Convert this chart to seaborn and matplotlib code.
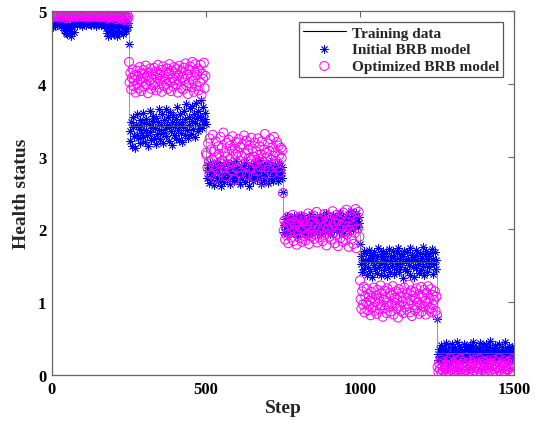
import numpy as np
import pandas as pd
import matplotlib
matplotlib.use("Agg")
import matplotlib.pyplot as plt
import seaborn as sns

# ---------------- data ----------------
# step range covered by each health-state segment, and the switching steps
segment_ranges = [(0, 248), (252, 498), (502, 748), (752, 998), (1002, 1248), (1252, 1500)]
transition_steps = [250, 500, 750, 1000, 1250]

initial_seg1 = [4.80, 4.78, 4.84, 4.82, 4.79, 4.85, 4.83, 4.81, 4.86, 4.84,
                4.82, 4.85, 4.80, 4.83, 4.86, 4.77, 4.74, 4.81, 4.70, 4.78,
                4.68, 4.83, 4.75, 4.72, 4.80, 4.66, 4.79, 4.84, 4.71, 4.82,
                4.85, 4.83, 4.86, 4.81, 4.84, 4.87, 4.82, 4.85, 4.83, 4.80,
                4.86, 4.84, 4.82, 4.85, 4.81, 4.87, 4.83, 4.84, 4.86, 4.82,
                4.84, 4.81, 4.85, 4.83, 4.87, 4.82, 4.84, 4.80, 4.86, 4.83,
                4.85, 4.82, 4.84, 4.86, 4.81, 4.83, 4.85, 4.79, 4.84, 4.82,
                4.76, 4.70, 4.83, 4.65, 4.78, 4.72, 4.81, 4.67, 4.85, 4.74,
                4.80, 4.69, 4.84, 4.73, 4.66, 4.82, 4.77, 4.70, 4.85, 4.79,
                4.71, 4.83, 4.68, 4.80, 4.75, 4.86, 4.72, 4.81, 4.78, 4.84]
initial_seg2 = [3.35, 3.22, 3.48, 3.15, 3.40, 3.55, 3.28, 3.12, 3.44, 3.30,
                3.58, 3.25, 3.38, 3.50, 3.18, 3.42, 3.33, 3.60, 3.27, 3.46,
                3.20, 3.37, 3.52, 3.29, 3.14, 3.45, 3.62, 3.34, 3.23, 3.49,
                3.41, 3.56, 3.26, 3.39, 3.17, 3.53, 3.31, 3.47, 3.65, 3.36,
                3.24, 3.43, 3.58, 3.32, 3.19, 3.50, 3.38, 3.66, 3.28, 3.44,
                3.54, 3.21, 3.40, 3.61, 3.35, 3.16, 3.47, 3.57, 3.30, 3.42,
                3.26, 3.52, 3.68, 3.37, 3.23, 3.45, 3.59, 3.33, 3.48, 3.20,
                3.40, 3.63, 3.29, 3.51, 3.72, 3.36, 3.25, 3.55, 3.44, 3.67,
                3.31, 3.49, 3.70, 3.38, 3.58, 3.27, 3.46, 3.74, 3.53, 3.35,
                3.62, 3.42, 3.56, 3.78, 3.39, 3.50, 3.68, 3.45, 3.60, 3.52]
initial_seg3 = [2.82, 2.70, 2.88, 2.64, 2.76, 2.91, 2.68, 2.80, 2.73, 2.86,
                2.61, 2.79, 2.84, 2.71, 2.93, 2.66, 2.77, 2.89, 2.74, 2.60,
                2.83, 2.72, 2.87, 2.65, 2.78, 2.92, 2.69, 2.81, 2.75, 2.85,
                2.63, 2.80, 2.90, 2.70, 2.77, 2.86, 2.67, 2.83, 2.73, 2.94,
                2.68, 2.79, 2.84, 2.62, 2.76, 2.89, 2.71, 2.82, 2.74, 2.87,
                2.65, 2.81, 2.92, 2.70, 2.78, 2.85, 2.59, 2.80, 2.88, 2.72,
                2.83, 2.66, 2.77, 2.91, 2.74, 2.84, 2.69, 2.79, 2.95, 2.71,
                2.86, 2.63, 2.80, 2.88, 2.75, 2.68, 2.82, 2.90, 2.73, 2.78,
                2.64, 2.85, 2.79, 2.93, 2.70, 2.81, 2.87, 2.67, 2.76, 2.84,
                2.89, 2.72, 2.80, 2.66, 2.83, 2.91, 2.75, 2.78, 2.86, 2.70]
initial_seg4 = [2.06, 1.97, 2.14, 2.01, 2.19, 1.93, 2.09, 2.03, 2.16, 1.99,
                2.11, 2.04, 1.95, 2.18, 2.07, 2.00, 2.13, 1.91, 2.08, 2.15,
                2.02, 1.96, 2.12, 2.20, 2.05, 1.98, 2.10, 2.17, 1.94, 2.06,
                2.14, 2.00, 2.08, 1.92, 2.16, 2.03, 2.21, 1.97, 2.11, 2.05,
                1.99, 2.13, 2.07, 2.18, 1.95, 2.09, 2.02, 2.15, 2.06, 1.93,
                2.10, 2.19, 2.01, 2.12, 1.96, 2.08, 2.22, 2.04, 1.98, 2.14,
                2.07, 1.94, 2.16, 2.03, 2.11, 2.20, 1.99, 2.09, 2.13, 2.01,
                2.17, 2.05, 1.97, 2.12, 2.23, 2.06, 2.10, 1.95, 2.15, 2.08,
                2.02, 2.18, 2.11, 2.04, 2.21, 1.98, 2.14, 2.09, 2.25, 2.07,
                2.13, 2.00, 2.19, 2.10, 2.06, 2.22, 2.12, 2.03, 2.17, 2.09]
initial_seg5 = [1.52, 1.64, 1.41, 1.58, 1.70, 1.46, 1.55, 1.67, 1.37, 1.60,
                1.49, 1.72, 1.43, 1.56, 1.65, 1.34, 1.61, 1.51, 1.69, 1.45,
                1.57, 1.40, 1.63, 1.74, 1.48, 1.54, 1.66, 1.38, 1.59, 1.71,
                1.44, 1.62, 1.53, 1.68, 1.36, 1.58, 1.47, 1.73, 1.55, 1.42,
                1.64, 1.50, 1.70, 1.39, 1.61, 1.56, 1.45, 1.67, 1.52, 1.75,
                1.41, 1.59, 1.48, 1.66, 1.54, 1.33, 1.63, 1.71, 1.46, 1.57,
                1.69, 1.43, 1.60, 1.51, 1.74, 1.38, 1.56, 1.65, 1.49, 1.62,
                1.35, 1.58, 1.72, 1.47, 1.64, 1.53, 1.40, 1.68, 1.57, 1.44,
                1.61, 1.76, 1.50, 1.37, 1.66, 1.55, 1.70, 1.42, 1.59, 1.63,
                1.48, 1.67, 1.54, 1.73, 1.39, 1.60, 1.52, 1.69, 1.45, 1.58]
initial_seg6 = [0.29, 0.21, 0.36, 0.25, 0.41, 0.19, 0.33, 0.27, 0.38, 0.23,
                0.31, 0.44, 0.22, 0.35, 0.26, 0.39, 0.18, 0.30, 0.42, 0.24,
                0.34, 0.28, 0.37, 0.20, 0.32, 0.45, 0.25, 0.29, 0.40, 0.22,
                0.36, 0.27, 0.33, 0.19, 0.43, 0.30, 0.24, 0.38, 0.26, 0.35,
                0.21, 0.32, 0.41, 0.28, 0.37, 0.23, 0.46, 0.31, 0.25, 0.34,
                0.39, 0.20, 0.30, 0.36, 0.27, 0.44, 0.22, 0.33, 0.29, 0.40,
                0.24, 0.35, 0.28, 0.42, 0.19, 0.31, 0.38, 0.26, 0.47, 0.32,
                0.23, 0.37, 0.29, 0.34, 0.21, 0.41, 0.27, 0.36, 0.30, 0.25,
                0.43, 0.28, 0.33, 0.20, 0.39, 0.32, 0.24, 0.45, 0.31, 0.26,
                0.35, 0.22, 0.40, 0.29, 0.34, 0.27, 0.38, 0.23, 0.36, 0.30]
initial_transitions = [4.55, 3.45, 2.52, 1.80, 0.77]

optimized_seg1 = [4.95, 4.93, 4.96, 4.94, 4.92, 4.97, 4.95, 4.93, 4.96, 4.94,
                  4.91, 4.95, 4.97, 4.93, 4.94, 4.96, 4.92, 4.95, 4.90, 4.94,
                  4.96, 4.93, 4.95, 4.97, 4.92, 4.94, 4.96, 4.93, 4.95, 4.91,
                  4.94, 4.97, 4.93, 4.95, 4.96, 4.92, 4.94, 4.97, 4.93, 4.95,
                  4.92, 4.96, 4.94, 4.93, 4.97, 4.95, 4.91, 4.94, 4.96, 4.93,
                  4.95, 4.92, 4.96, 4.94, 4.93, 4.97, 4.95, 4.92, 4.94, 4.96,
                  4.93, 4.95, 4.91, 4.96, 4.94, 4.92, 4.97, 4.93, 4.95, 4.94,
                  4.96, 4.93, 4.90, 4.95, 4.92, 4.94, 4.96, 4.91, 4.93, 4.95,
                  4.92, 4.95, 4.93, 4.89, 4.94, 4.96, 4.92, 4.90, 4.95, 4.93,
                  4.91, 4.94, 4.88, 4.93, 4.95, 4.90, 4.92, 4.87, 4.94, 4.91]
optimized_seg2 = [4.02, 4.15, 3.92, 4.08, 4.20, 3.97, 4.05, 4.12, 3.88, 4.18,
                  4.00, 4.10, 3.94, 4.23, 4.06, 3.90, 4.14, 4.03, 4.19, 3.96,
                  4.09, 4.25, 3.99, 4.11, 3.87, 4.16, 4.04, 4.21, 3.93, 4.07,
                  4.13, 3.98, 4.22, 4.01, 4.17, 3.91, 4.08, 4.26, 3.95, 4.12,
                  4.04, 4.19, 3.89, 4.10, 4.24, 3.97, 4.06, 4.15, 4.00, 4.21,
                  3.93, 4.13, 4.27, 4.02, 3.90, 4.18, 4.08, 3.96, 4.23, 4.05,
                  4.14, 3.99, 4.20, 3.88, 4.11, 4.25, 4.03, 3.94, 4.17, 4.09,
                  3.92, 4.22, 4.06, 4.28, 3.98, 4.13, 3.86, 4.19, 4.01, 4.24,
                  4.10, 3.95, 4.30, 4.04, 3.89, 4.16, 4.27, 3.97, 4.12, 4.21,
                  3.91, 4.18, 4.02, 4.26, 3.85, 4.14, 4.07, 4.29, 3.94, 4.11]
optimized_seg3 = [3.02, 2.85, 3.18, 2.93, 3.25, 2.76, 3.10, 2.96, 3.30, 2.88,
                  3.07, 2.70, 3.21, 2.99, 2.82, 3.14, 3.04, 2.91, 3.27, 2.79,
                  3.12, 2.95, 3.33, 2.86, 3.05, 2.73, 3.19, 3.00, 2.89, 3.23,
                  2.97, 3.15, 2.81, 3.08, 3.28, 2.92, 2.68, 3.11, 3.03, 3.20,
                  2.84, 3.06, 3.24, 2.94, 3.13, 2.78, 3.01, 3.17, 2.90, 3.29,
                  3.04, 2.87, 3.22, 2.75, 3.09, 2.98, 3.16, 2.83, 3.26, 2.95,
                  3.11, 2.72, 3.00, 3.19, 2.91, 3.07, 2.80, 3.25, 2.97, 3.14,
                  2.86, 3.03, 3.21, 2.93, 2.66, 3.10, 3.31, 2.89, 3.05, 2.99,
                  3.18, 2.82, 3.08, 3.24, 2.96, 2.77, 3.13, 3.01, 3.27, 2.90,
                  3.06, 2.94, 3.20, 2.85, 3.15, 3.02, 2.79, 3.12, 2.98, 3.09]
optimized_seg4 = [1.98, 2.12, 1.86, 2.05, 1.92, 2.17, 1.81, 2.08, 1.95, 2.14,
                  1.89, 2.02, 2.20, 1.84, 2.10, 1.97, 2.06, 1.79, 2.15, 1.93,
                  2.04, 1.88, 2.18, 1.99, 1.83, 2.11, 2.01, 1.91, 2.16, 1.85,
                  2.07, 1.94, 2.22, 1.80, 2.03, 2.13, 1.90, 2.09, 1.96, 2.19,
                  1.87, 2.05, 1.93, 2.24, 1.82, 2.00, 2.14, 1.89, 2.08, 1.97,
                  2.16, 1.84, 2.02, 2.21, 1.92, 2.06, 1.78, 2.12, 1.99, 2.17,
                  1.90, 2.09, 1.86, 2.03, 2.25, 1.95, 2.11, 1.81, 2.07, 2.20,
                  1.94, 1.77, 2.13, 2.00, 1.88, 2.18, 2.05, 1.83, 2.23, 1.96,
                  2.10, 1.85, 2.27, 1.93, 2.04, 1.76, 2.15, 1.98, 2.21, 1.87,
                  2.06, 1.80, 2.19, 1.95, 2.28, 1.74, 2.12, 2.01, 2.24, 1.90]
optimized_seg5 = [1.04, 0.91, 1.15, 0.97, 1.21, 0.86, 1.08, 0.99, 1.18, 0.89,
                  1.11, 0.95, 1.02, 0.82, 1.14, 1.06, 0.93, 1.20, 0.88, 1.01,
                  1.09, 0.84, 1.17, 0.98, 1.05, 0.90, 1.23, 0.96, 1.12, 0.80,
                  1.03, 1.16, 0.92, 1.07, 0.85, 1.19, 1.00, 0.94, 1.13, 0.87,
                  1.10, 0.97, 1.22, 0.83, 1.06, 0.99, 1.15, 0.91, 1.04, 0.79,
                  1.18, 0.95, 1.08, 0.88, 1.13, 1.01, 0.85, 1.20, 0.93, 1.06,
                  0.90, 1.12, 0.98, 1.24, 0.86, 1.03, 1.16, 0.81, 1.09, 0.96,
                  1.14, 0.89, 1.05, 1.19, 0.92, 1.00, 0.84, 1.11, 0.97, 1.21,
                  0.87, 1.07, 0.94, 1.17, 1.02, 0.83, 1.13, 0.99, 1.22, 0.90,
                  1.05, 0.92, 1.18, 0.86, 1.10, 0.96, 1.03, 1.15, 0.88, 1.08]
optimized_seg6 = [0.11, 0.04, 0.16, 0.08, 0.21, 0.03, 0.13, 0.06, 0.18, 0.09,
                  0.14, 0.02, 0.10, 0.19, 0.05, 0.12, 0.23, 0.07, 0.15, 0.01,
                  0.09, 0.17, 0.04, 0.12, 0.20, 0.06, 0.14, 0.03, 0.11, 0.22,
                  0.08, 0.15, 0.02, 0.18, 0.10, 0.05, 0.13, 0.24, 0.07, 0.16,
                  0.03, 0.12, 0.19, 0.09, 0.14, 0.01, 0.17, 0.06, 0.21, 0.10,
                  0.13, 0.04, 0.16, 0.08, 0.22, 0.11, 0.02, 0.15, 0.07, 0.19,
                  0.10, 0.18, 0.05, 0.13, 0.03, 0.20, 0.09, 0.14, 0.06, 0.17,
                  0.12, 0.02, 0.15, 0.21, 0.08, 0.11, 0.04, 0.18, 0.10, 0.23,
                  0.06, 0.14, 0.09, 0.01, 0.16, 0.12, 0.20, 0.05, 0.13, 0.08,
                  0.17, 0.07, 0.11, 0.19, 0.03, 0.15, 0.10, 0.22, 0.04, 0.12]
optimized_transitions = [4.30, 3.05, 2.50, 1.30, 0.82]

# training curve: only its switching strokes are visible, the rest is hidden
# under the dense marker bands
training_steps = [0, 250, 250, 500, 500, 750, 750, 1000, 1000, 1250, 1250, 1500]
training_values = [4.96, 4.96, 3.42, 3.42, 2.80, 2.80, 2.06, 2.06, 1.55, 1.55, 0.30, 0.30]

xticks = [0, 500, 1000, 1500]
yticks = [0, 1, 2, 3, 4, 5]
labels = ["Training data", "Initial BRB model", "Optimized BRB model"]


def build(segs, trans):
    xs, ys = [], []
    for i, (seg, (a, b)) in enumerate(zip(segs, segment_ranges)):
        xs += list(np.linspace(a, b, len(seg)))
        ys += seg
        if i < len(trans):
            xs.append(transition_steps[i])
            ys.append(trans[i])
    return xs, ys


ix, iy = build([initial_seg1, initial_seg2, initial_seg3, initial_seg4,
                initial_seg5, initial_seg6], initial_transitions)
ox, oy = build([optimized_seg1, optimized_seg2, optimized_seg3, optimized_seg4,
                optimized_seg5, optimized_seg6], optimized_transitions)

init_df = pd.DataFrame({"Step": ix, "value": iy})
opt_df = pd.DataFrame({"Step": ox, "value": oy})
train_df = pd.DataFrame({"Step": training_steps, "value": training_values})

# ---------------- plot ----------------
sns.set_style("white")
plt.rcParams["font.family"] = ["Liberation Serif", "DejaVu Serif"]
plt.rcParams["font.weight"] = "bold"

fig = plt.figure(figsize=(5.39, 4.31), dpi=100)
ax = fig.add_axes([52 / 539, 55 / 431, 462 / 539, 364 / 431])

sns.lineplot(data=train_df, x="Step", y="value", ax=ax, color="#707070",
             linewidth=0.5, sort=False, estimator=None, label=labels[0])
sns.scatterplot(data=init_df, x="Step", y="value", ax=ax, marker=(8, 2, 0),
                color="blue", edgecolor="blue", s=30, linewidth=0.6,
                label=labels[1])
sns.scatterplot(data=opt_df, x="Step", y="value", ax=ax, marker="o",
                color="magenta", facecolor="none", edgecolor="magenta",
                s=42, linewidth=0.7, label=labels[2])

ax.set_xlim(0, 1500)
ax.set_ylim(0, 5)
ax.set_xticks(xticks)
ax.set_yticks(yticks)
ax.tick_params(direction="in", length=4, width=0.8, top=True, right=True,
               labelsize=12, labelcolor="black", color="#666666", pad=4)
for lab in ax.get_xticklabels() + ax.get_yticklabels():
    lab.set_fontweight("bold")
for sp in ax.spines.values():
    sp.set_visible(True)
    sp.set_color("#666666")
    sp.set_linewidth(0.9)

ax.set_xlabel("Step", fontsize=14, fontweight="bold", labelpad=2)
ax.set_ylabel("Health status", fontsize=14, fontweight="bold", labelpad=6)

leg = ax.legend(loc="upper right", bbox_to_anchor=(503 / 539, 408 / 431),
                bbox_transform=fig.transFigure, frameon=True, fancybox=False,
                framealpha=1, edgecolor="#555555", fontsize=11,
                handlelength=2.8, handletextpad=0.4, labelspacing=0.2,
                borderpad=0.25, borderaxespad=0, scatterpoints=1)
leg.get_frame().set_linewidth(0.9)
leg.get_lines()[0].set_color("black")
leg.get_lines()[0].set_linewidth(0.8)
for t in leg.get_texts():
    t.set_fontweight("bold")

fig.savefig("out.png", dpi=100)
